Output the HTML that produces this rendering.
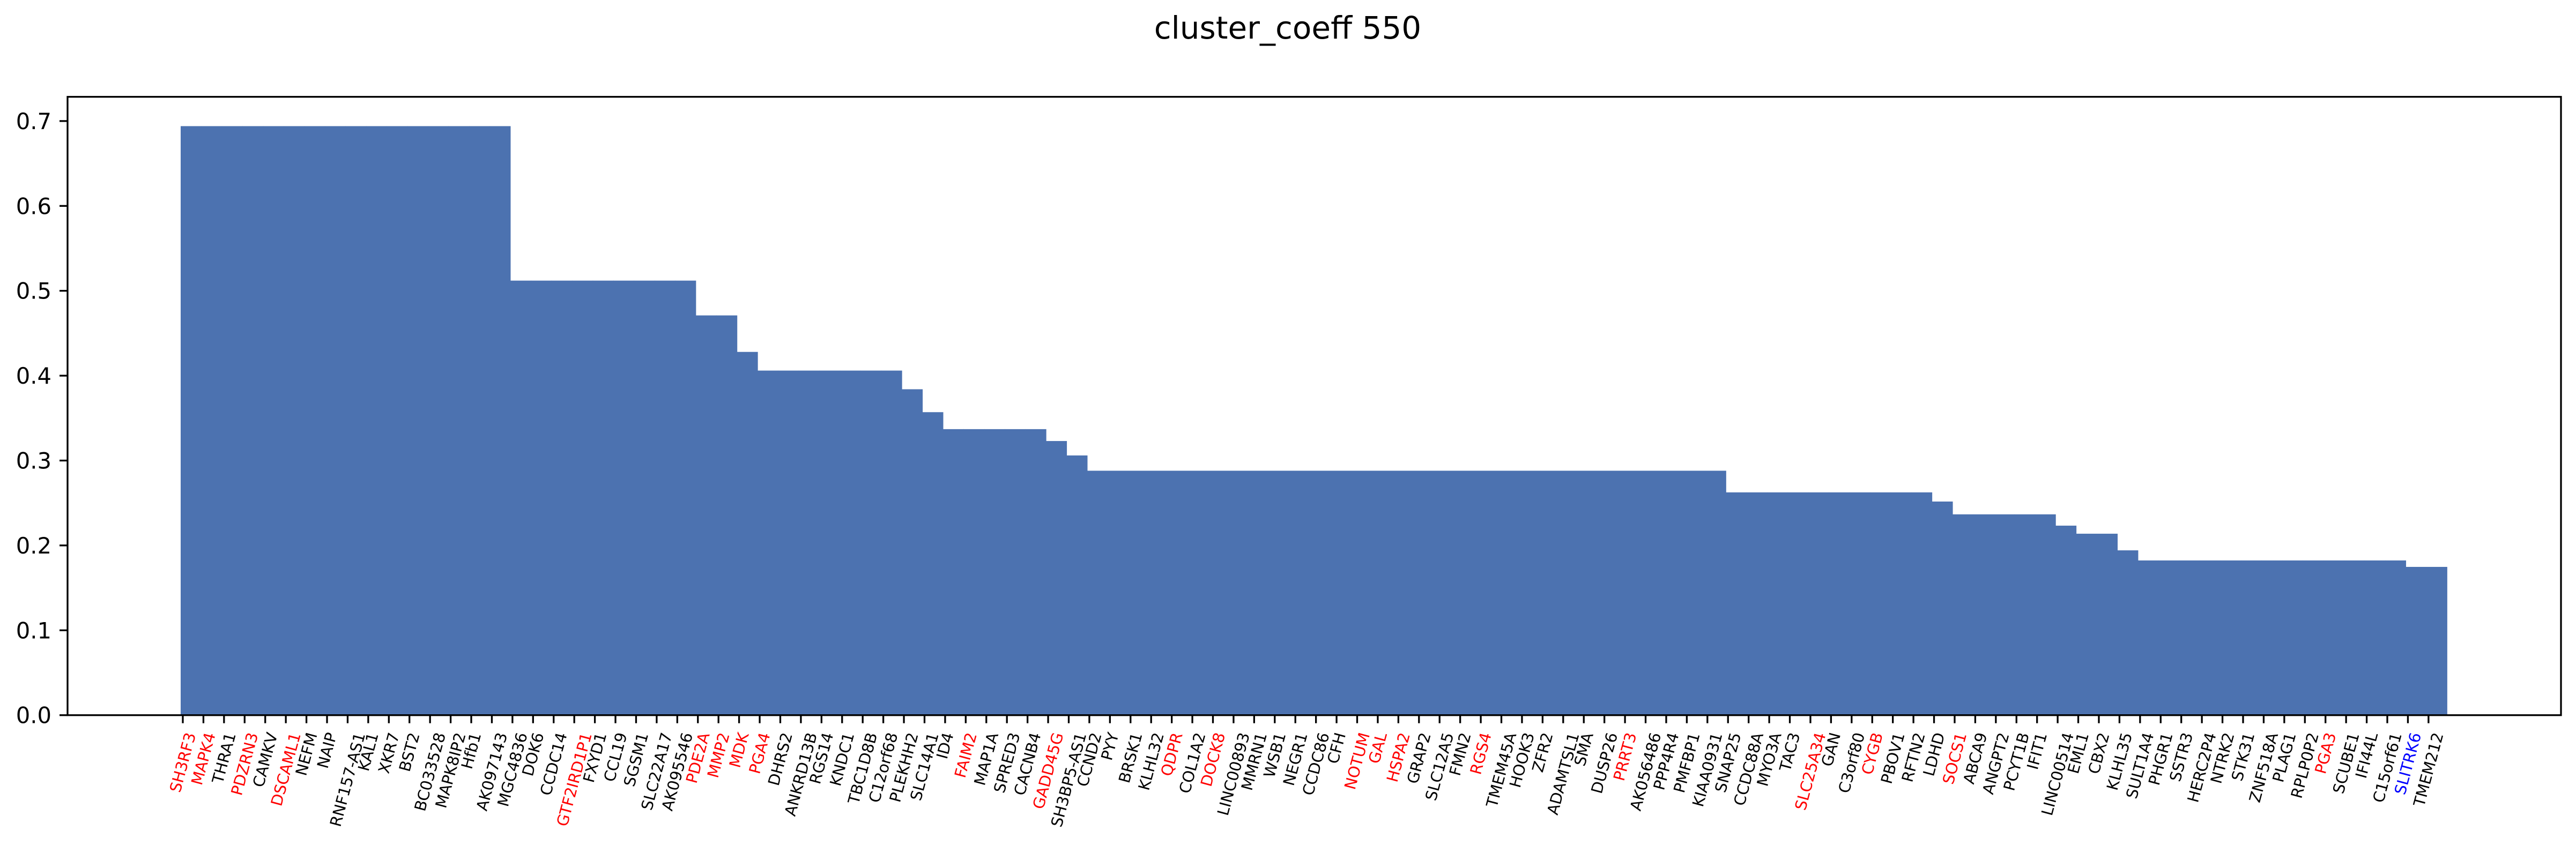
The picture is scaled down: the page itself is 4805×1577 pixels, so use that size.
<!DOCTYPE html>
<html><head><meta charset="utf-8">
<style>
html,body{margin:0;padding:0;background:#fff;}
svg{display:block;}
text{font-family:"DejaVu Sans","Liberation Sans",sans-serif;}
</style></head>
<body>
<svg id="chart" width="4805" height="1577" viewBox="0 0 4805 1577" xmlns="http://www.w3.org/2000/svg">
<rect x="0" y="0" width="4805" height="1577" fill="#fff"/>
<text x="2402" y="72" font-size="58" text-anchor="middle" fill="#000">cluster_coeff 550</text>
<g id="bars"></g>
<g id="yaxis"></g>
<g id="xaxis"></g>
<rect x="126" y="180.7" width="4651" height="1154" fill="none" stroke="#000" stroke-width="3.3"/>
</svg>
<script>
const genes = ["SH3RF3","MAPK4","THRA1","PDZRN3","CAMKV","DSCAML1","NEFM","NAIP","RNF157-AS1","KAL1","XKR7","BST2","BC033528","MAPK8IP2","Hfb1","AK097143","MGC4836","DOK6","CCDC14","GTF2IRD1P1","FXYD1","CCL19","SGSM1","SLC22A17","AK095546","PDE2A","MMP2","MDK","PGA4","DHRS2","ANKRD13B","RGS14","KNDC1","TBC1D8B","C12orf68","PLEKHH2","SLC14A1","ID4","FAIM2","MAP1A","SPRED3","CACNB4","GADD45G","SH3BP5-AS1","CCND2","PYY","BRSK1","KLHL32","QDPR","COL1A2","DOCK8","LINC00893","MMRN1","WSB1","NEGR1","CCDC86","CFH","NOTUM","GAL","HSPA2","GRAP2","SLC12A5","FMN2","RGS4","TMEM45A","HOOK3","ZFR2","ADAMTSL1","SMA","DUSP26","PRRT3","AK056486","PPP4R4","PMFBP1","KIAA0931","SNAP25","CCDC88A","MYO3A","TAC3","SLC25A34","GAN","C3orf80","CYGB","PBOV1","RFTN2","LDHD","SOCS1","ABCA9","ANGPT2","PCYT1B","IFIT1","LINC00514","EML1","CBX2","KLHL35","SULT1A4","PHGR1","SSTR3","HERC2P4","NTRK2","STK31","ZNF518A","PLAG1","RPLP0P2","PGA3","SCUBE1","IFI44L","C15orf61","SLITRK6","TMEM212"];
const values = [
0.694,0.694,0.694,0.694,0.694,0.694,0.694,0.694,0.694,0.694,0.694,0.694,0.694,0.694,0.694,0.694,
0.512,0.512,0.512,0.512,0.512,0.512,0.512,0.512,0.512,
0.471,0.471,
0.428,
0.406,0.406,0.406,0.406,0.406,0.406,0.406,
0.384,0.357,
0.337,0.337,0.337,0.337,0.337,
0.323,0.306,
0.288,0.288,0.288,0.288,0.288,0.288,0.288,0.288,0.288,0.288,0.288,0.288,0.288,0.288,0.288,0.288,0.288,0.288,0.288,0.288,0.288,0.288,0.288,0.288,0.288,0.288,0.288,0.288,0.288,0.288,0.288,
0.2625,0.2625,0.2625,0.2625,0.2625,0.2625,0.2625,0.2625,0.2625,0.2625,
0.2517,
0.2366,0.2366,0.2366,0.2366,0.2366,
0.2233,
0.2138,0.2138,
0.1942,
0.1823,0.1823,0.1823,0.1823,0.1823,0.1823,0.1823,0.1823,0.1823,0.1823,0.1823,0.1823,0.1823,
0.1747,0.1747];
const redGenes = ["SH3RF3","MAPK4","PDZRN3","DSCAML1","GTF2IRD1P1","PDE2A","MMP2","MDK","PGA4","FAIM2","GADD45G","QDPR","DOCK8","NOTUM","GAL","HSPA2","RGS4","PRRT3","SLC25A34","CYGB","SOCS1","PGA3"];
const blueGenes = ["SLITRK6"];
const yTicks = [0.0,0.1,0.2,0.3,0.4,0.5,0.6,0.7];
const yTickLabels = ["0.0","0.1","0.2","0.3","0.4","0.5","0.6","0.7"];

const NS = "http://www.w3.org/2000/svg";
const Y0 = 1334.7, YPX = 1584;
const X0 = 337, STEP = 38.43;
function yScale(v){ return Y0 - v*YPX; }
function xScale(i){ return X0 + STEP*i; }

const barsG = document.getElementById('bars');
values.forEach((v,i)=>{
  const r = document.createElementNS(NS,'rect');
  
  
  r.setAttribute('x', xScale(i));
  r.setAttribute('width', STEP + 0.6);
  r.setAttribute('y', yScale(v));
  r.setAttribute('height', Y0 - yScale(v));
  r.setAttribute('fill', '#4c72b0');
  barsG.appendChild(r);
});

const yG = document.getElementById('yaxis');
yTicks.forEach((t,k)=>{
  const y = yScale(t);
  const ln = document.createElementNS(NS,'line');
  
  
  ln.setAttribute('x1', 111); ln.setAttribute('x2', 126);
  ln.setAttribute('y1', y); ln.setAttribute('y2', y);
  ln.setAttribute('stroke', '#000'); ln.setAttribute('stroke-width', 3.3);
  yG.appendChild(ln);
  const tx = document.createElementNS(NS,'text');
  
  
  tx.setAttribute('x', 96); tx.setAttribute('y', y + 15);
  tx.setAttribute('font-size', 41.7);
  tx.setAttribute('text-anchor', 'end');
  tx.textContent = yTickLabels[k];
  yG.appendChild(tx);
});

const xG = document.getElementById('xaxis');
const FS = 29, ANG = 75, rad = ANG*Math.PI/180;
genes.forEach((g,i)=>{
  const x = xScale(i) + 4;
  const ln = document.createElementNS(NS,'line');
  
  
  ln.setAttribute('x1', x); ln.setAttribute('x2', x);
  ln.setAttribute('y1', Y0); ln.setAttribute('y2', Y0 + 15);
  ln.setAttribute('stroke', '#000'); ln.setAttribute('stroke-width', 3.3);
  xG.appendChild(ln);
  const tx = document.createElementNS(NS,'text');
  
  
  tx.setAttribute('font-size', FS);
  tx.setAttribute('text-anchor', 'middle');
  tx.setAttribute('dominant-baseline', 'central');
  let col = '#000';
  if (redGenes.includes(g)) col = '#ff0000';
  if (blueGenes.includes(g)) col = '#0000ff';
  tx.setAttribute('fill', col);
  tx.textContent = g;
  xG.appendChild(tx);
  const w = tx.getComputedTextLength();
  const h = FS*1.1;
  const bh = w*Math.sin(rad) + h*Math.cos(rad);
  const cy = Y0 + 29 + bh/2;
  tx.setAttribute('x', x); tx.setAttribute('y', cy);
  tx.setAttribute('transform', 'rotate(-75 ' + x + ' ' + cy + ')');
});
</script>
</body></html>
